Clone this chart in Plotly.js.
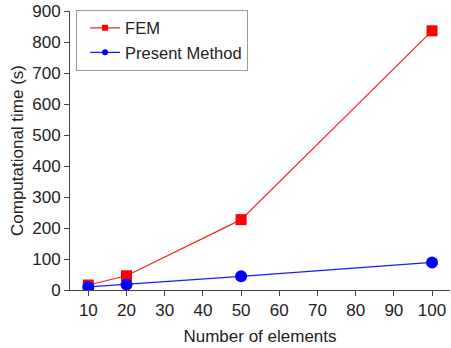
<!DOCTYPE html>
<html><head><meta charset="utf-8">
<script src="https://cdn.plot.ly/plotly-3.0.1.min.js"></script>
<style>html,body{margin:0;padding:0;background:#fff}#chart{width:451px;height:348px}</style>
</head><body><div id="chart"></div>
<script>
const elements = [10, 20, 50, 100];
const femTime = [16, 46, 227, 836];
const presentTime = [10, 18, 44, 89];
const seriesNames = ['FEM', 'Present Method'];
const xTicks = [10, 20, 30, 40, 50, 60, 70, 80, 90, 100];
const yTicks = [0, 100, 200, 300, 400, 500, 600, 700, 800, 900];

const font = 'Liberation Sans, Arial, sans-serif';
const data = [
  {x: elements, y: femTime, mode: 'lines+markers', name: seriesNames[0], showlegend: false,
   line: {color: '#ff2020', width: 1.2}, marker: {symbol: 'square', size: 11, color: '#ff0000'}},
  {x: elements, y: presentTime, mode: 'lines+markers', name: seriesNames[1], showlegend: false,
   line: {color: '#1a1aff', width: 1.2}, marker: {symbol: 'circle', size: 12, color: '#0000ff'}},
  {x: [null], y: [null], mode: 'lines+markers', name: seriesNames[0],
   line: {color: '#ff2020', width: 1.2}, marker: {symbol: 'square', size: 6, color: '#ff0000'}},
  {x: [null], y: [null], mode: 'lines+markers', name: seriesNames[1],
   line: {color: '#1a1aff', width: 1.2}, marker: {symbol: 'circle', size: 6, color: '#0000ff'}}
];
const layout = {
  width: 451, height: 348,
  margin: {l: 70, r: 1, t: 11, b: 58},
  paper_bgcolor: '#fff', plot_bgcolor: '#fff',
  font: {family: font, size: 17, color: '#222'},
  xaxis: {range: [5.2, 104.7], tickvals: xTicks, ticks: 'outside', ticklen: 5, tickcolor: '#444',
    showline: true, linecolor: '#444', linewidth: 1, showgrid: false, zeroline: false,
    tickfont: {size: 17}, title: {text: 'Number of elements', font: {size: 17}, standoff: 10}},
  yaxis: {range: [0, 900], tickvals: yTicks, ticks: 'outside', ticklen: 5, tickcolor: '#444',
    showline: true, linecolor: '#444', linewidth: 1, showgrid: false, zeroline: false,
    tickfont: {size: 17}, title: {text: 'Computational time (s)', font: {size: 17}, standoff: 4}},
  legend: {x: 0.016, y: 1.005, xanchor: 'left', yanchor: 'top', bgcolor: '#fff',
    bordercolor: '#999', borderwidth: 1, font: {size: 16.5}, tracegroupgap: 0,
    indentation: 8},
  showlegend: true
};
Plotly.newPlot('chart', data, layout, {staticPlot: true, displayModeBar: false});
</script></body></html>
